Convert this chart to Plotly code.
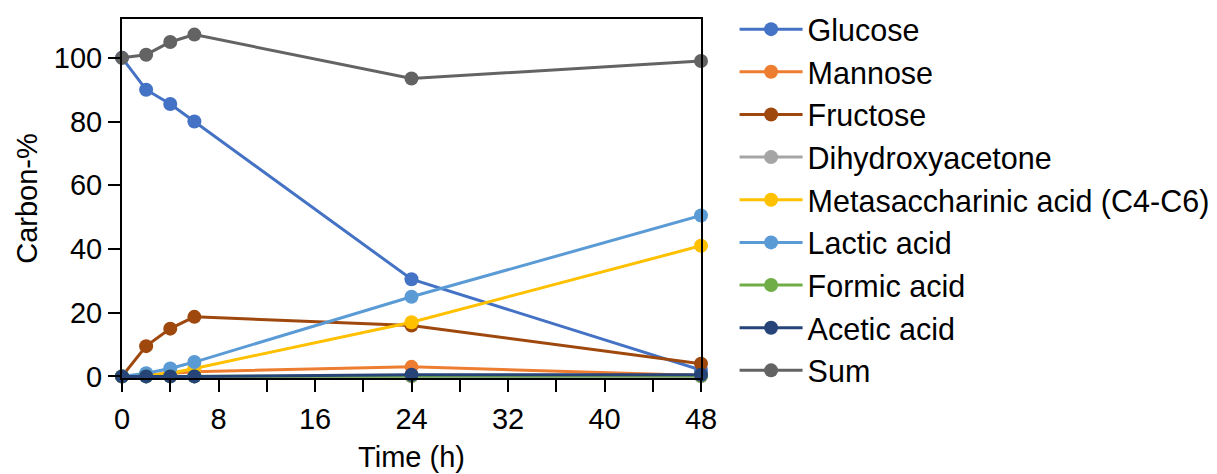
import plotly.graph_objects as go

time_h = [0, 2, 4, 6, 24, 48]
glucose = [100, 90, 85.5, 80, 30.5, 2]
mannose = [0, 0.5, 1, 1.5, 3, 0.3]
fructose = [0, 9.5, 15, 18.7, 16, 4]
dihydroxyacetone = [0, 0, 0, 0, 0, 0]
metasaccharinic = [0, 0.3, 1, 2.5, 17, 41]
lactic = [0, 1, 2.5, 4.5, 25, 50.5]
formic = [0, 0, 0, 0, 0.2, 0.2]
acetic = [0, 0, 0, 0, 0.5, 0.5]
total = [100, 101, 105, 107.3, 93.5, 99]

series_names = ["Glucose", "Mannose", "Fructose", "Dihydroxyacetone",
                "Metasaccharinic acid (C4-C6)", "Lactic acid", "Formic acid",
                "Acetic acid", "Sum"]
series_values = [glucose, mannose, fructose, dihydroxyacetone, metasaccharinic,
                 lactic, formic, acetic, total]
colors = ["#4472C4", "#ED7D31", "#9E480E", "#A5A5A5", "#FFC000",
          "#5B9BD5", "#70AD47", "#264478", "#636363"]

x_ticks = [0, 8, 16, 24, 32, 40, 48]
y_ticks = [0, 20, 40, 60, 80, 100]

fig = go.Figure()
for name, vals, c in zip(series_names, series_values, colors):
    fig.add_trace(go.Scatter(
        x=time_h, y=vals, name=name, mode="lines+markers",
        line=dict(color=c, width=3),
        marker=dict(color=c, size=14),
        cliponaxis=False,
    ))

font = "Liberation Sans, Arial, sans-serif"
fig.update_layout(
    width=1217, height=474,
    margin=dict(l=122, r=516, t=19, b=96, autoexpand=False),
    paper_bgcolor="white", plot_bgcolor="white",
    font=dict(family=font, size=29, color="black"),
    showlegend=True,
    legend=dict(x=1.058, y=1.045, xanchor="left", yanchor="top",
                font=dict(size=30.5), tracegroupgap=0, maxheight=474,
                itemwidth=63, bgcolor="rgba(0,0,0,0)"),
)
fig.update_xaxes(
    range=[0, 48], tickvals=x_ticks, ticks="outside", ticklen=12, tickwidth=2,
    tickcolor="black", showline=True, linecolor="black", linewidth=2, mirror=True,
    showgrid=False, zeroline=False, tickfont=dict(size=29), automargin=False,
    ticklabelstandoff=2,
    minor=dict(tickvals=[4, 12, 20, 28, 36, 44], ticks="outside", ticklen=12,
               tickwidth=2, tickcolor="black"),
    title=dict(text="Time (h)", font=dict(size=29), standoff=13),
)
fig.update_yaxes(
    range=[-0.5, 112.2], tickvals=y_ticks, ticks="outside", ticklen=12, tickwidth=2,
    tickcolor="black", showline=True, linecolor="black", linewidth=2, mirror=True,
    showgrid=False, zeroline=False, tickfont=dict(size=29), automargin=False,
    title=dict(text="Carbon-%", font=dict(size=29), standoff=8),
)

fig.write_html("out.html")
